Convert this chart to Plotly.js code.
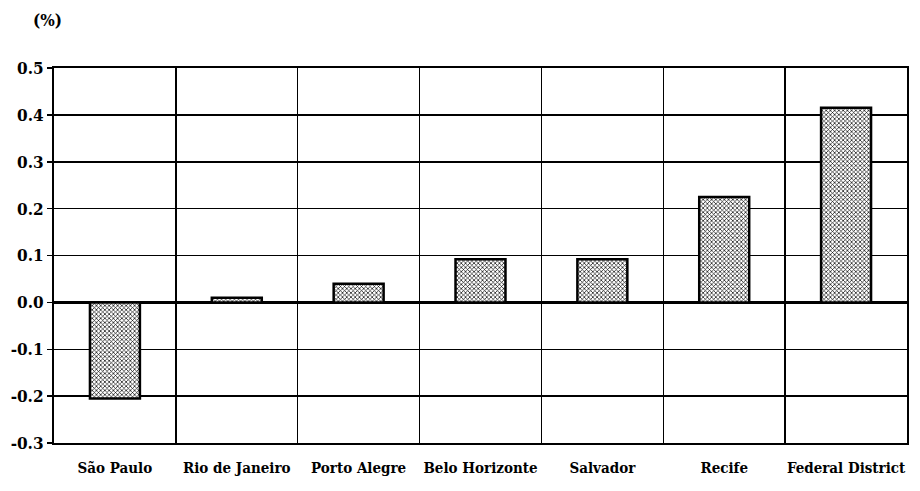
<!DOCTYPE html>
<html><head><meta charset="utf-8">
<script src="https://cdn.plot.ly/plotly-3.0.1.min.js"></script>
<style>html,body{margin:0;padding:0;background:#fff}#c{width:920px;height:491px}</style>
</head><body><div id="c"></div>
<script>
const cities = ["São Paulo","Rio de Janeiro","Porto Alegre","Belo Horizonte","Salvador","Recife","Federal District"];
const values = [-0.205, 0.01, 0.04, 0.092, 0.092, 0.225, 0.415];
const yTicks = [0.5, 0.4, 0.3, 0.2, 0.1, 0.0, -0.1, -0.2, -0.3];
const yTickText = ["0.5","0.4","0.3","0.2","0.1","0.0","-0.1","-0.2","-0.3"];
const unitLabel = "(%)";

const fam = "DejaVu Serif Condensed";
Plotly.newPlot("c", [{
  type: "bar", x: cities, y: values, width: 0.41,
  marker: {color: "#ffffff", line: {color: "#000", width: 2.5},
    pattern: {shape: "x", fgcolor: "#000", bgcolor: "#fff", size: 3, solidity: 0.4}},
  hoverinfo: "none"
}], {
  width: 920, height: 491,
  margin: {l: 54, r: 13, t: 68, b: 48},
  paper_bgcolor: "#fff", plot_bgcolor: "#fff",
  showlegend: false,
  font: {family: fam, size: 16, color: "#000"},
  xaxis: {type: "category", tickson: "boundaries", showgrid: true, gridcolor: "#000", gridwidth: 1.5,
    showline: true, mirror: true, linecolor: "#000", linewidth: 2, ticks: "", ticklen: 0, tickangle: 0,
    ticklabelstandoff: 10,
    tickfont: {family: fam, size: 15, color: "#000", weight: 700}, zeroline: false},
  yaxis: {range: [-0.3, 0.5], tickvals: yTicks, ticktext: yTickText, showgrid: true, gridcolor: "#000", gridwidth: 1.5,
    showline: true, mirror: true, linecolor: "#000", linewidth: 2, ticks: "outside", ticklen: 5, tickwidth: 1.5, tickcolor: "#000",
    zeroline: true, zerolinecolor: "#000", zerolinewidth: 3,
    tickfont: {family: fam, size: 17, color: "#000", weight: 700}},
  annotations: [{text: unitLabel, xref: "paper", yref: "paper", x: 0.012, y: 1.0, yshift: 48, xanchor: "right", yanchor: "middle",
    showarrow: false, font: {family: fam, size: 17, color: "#000", weight: 700}}]
}, {displayModeBar: false, staticPlot: true});
</script></body></html>
